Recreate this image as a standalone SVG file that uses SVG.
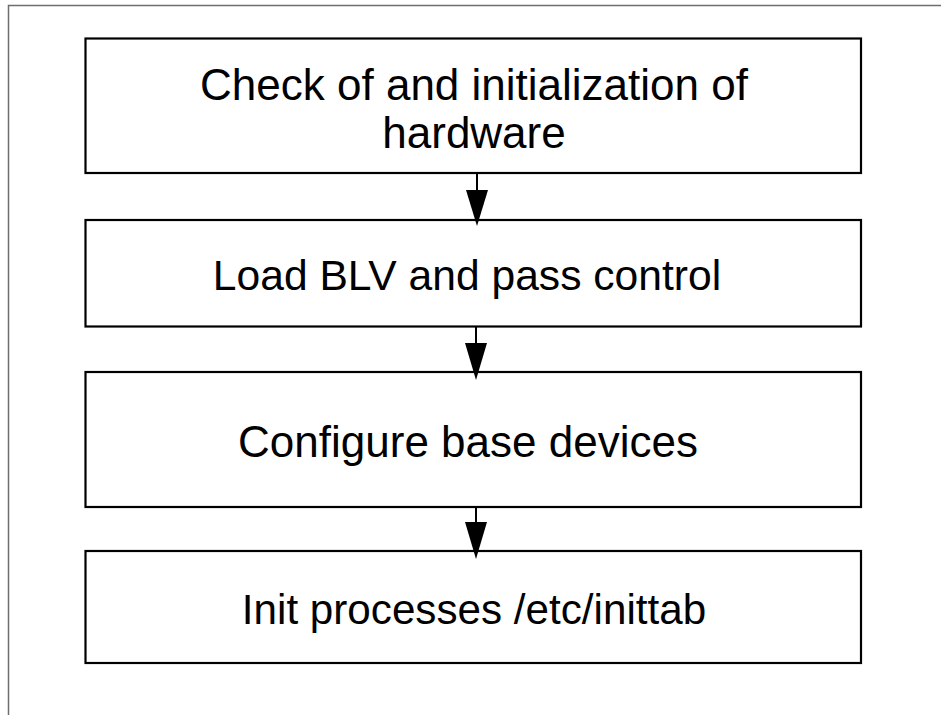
<svg xmlns="http://www.w3.org/2000/svg" width="941" height="715" viewBox="0 0 941 715">
  <style>
    .box { fill: #ffffff; stroke: #000000; stroke-width: 2.2; }
    .lbl { font-family: "Liberation Sans", Arial, sans-serif; font-size: 44px; fill: #000000; text-anchor: middle; }
    .conn { stroke: #000000; stroke-width: 2; fill: none; }
    .head { fill: #000000; stroke: none; }
  </style>
  <rect x="0" y="0" width="941" height="715" fill="#ffffff"/>
  <rect x="8.5" y="5.5" width="960" height="740" fill="none" stroke="#6e6e6e" stroke-width="1.5"/>
  <g id="node1">
    <rect class="box" x="85.5" y="38.5" width="775.5" height="134.5"/>
    <text class="lbl" x="474" y="100">Check of and initialization of</text>
    <text class="lbl" x="474" y="148">hardware</text>
  </g>
  <g id="node2">
    <rect class="box" x="85.5" y="220" width="775.5" height="106.5"/>
    <text class="lbl" x="467" y="290" style="font-size:42.6px">Load BLV and pass control</text>
  </g>
  <g id="node3">
    <rect class="box" x="85.5" y="372" width="775.5" height="135"/>
    <text class="lbl" x="468" y="457">Configure base devices</text>
  </g>
  <g id="node4">
    <rect class="box" x="85.5" y="551" width="775.5" height="112"/>
    <text class="lbl" x="474" y="624" style="font-size:42.2px">Init processes /etc/inittab</text>
  </g>
  <g id="connectors">
    <line class="conn" x1="477" y1="173" x2="477" y2="192"/>
    <polygon class="head" points="466,190 488,190 477,226"/>
    <line class="conn" x1="476" y1="326.5" x2="476" y2="345"/>
    <polygon class="head" points="465,343 487,343 476,380"/>
    <line class="conn" x1="476" y1="507" x2="476" y2="524"/>
    <polygon class="head" points="465,522 487,522 476,559"/>
  </g>
</svg>
